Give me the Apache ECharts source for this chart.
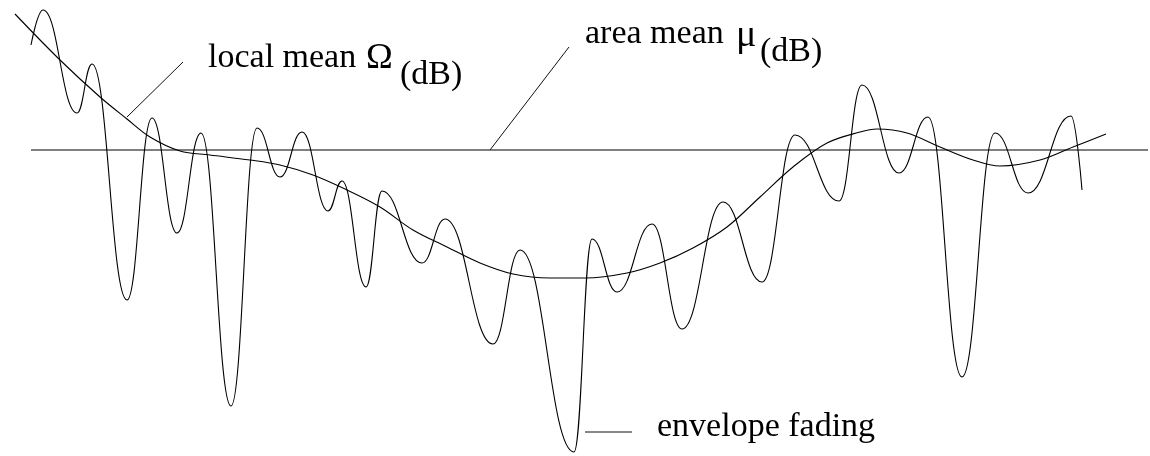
<!DOCTYPE html>
<html>
<head>
<meta charset="utf-8">
<style>
  html, body { margin: 0; padding: 0; background: #fff; }
  #chart { width: 1150px; height: 456px; }
</style>
<script src="https://cdn.jsdelivr.net/npm/echarts@6/dist/echarts.min.js"></script>
</head>
<body>
<div id="chart"></div>
<script>
// Received signal level (dB, relative to the area mean) against distance.
// Envelope fading: successive peaks and fades of the received envelope.
const envelopeFading = [
  [3.1, 10.5], [4.3, 14.0], [7.7, 3.7], [9.2, 8.6], [12.7, -15.0],
  [15.2, 3.2], [17.7, -8.3], [20.1, 1.7], [23.1, -25.6], [25.7, 2.2],
  [28.0, -2.7], [30.2, 1.8], [32.8, -6.1], [34.2, -3.1], [36.6, -13.7],
  [38.2, -4.1], [42.2, -11.3], [44.5, -6.9], [49.3, -19.4], [52.0, -10.0],
  [57.4, -30.2], [59.2, -8.9], [61.7, -14.2], [65.2, -7.4], [68.2, -17.9],
  [72.3, -5.2], [76.2, -13.2], [79.5, 1.5], [83.9, -5.1], [86.2, 6.5],
  [89.9, -2.3], [92.8, 3.3], [96.2, -22.7], [99.5, 1.7], [102.8, -4.3],
  [107.1, 3.4], [108.2, -4.0]
];

// Local mean: the slowly varying (shadowing) component.
const localMean = [
  [1.5, 13.6], [6.0, 9.0], [10.0, 5.3], [12.7, 3.1], [15.0, 1.3],
  [18.0, -0.1], [21.0, -0.5], [25.0, -1.0], [28.0, -1.5], [31.3, -2.5],
  [34.7, -4.0], [38.0, -5.7], [41.3, -8.0], [44.7, -9.7], [48.0, -11.3],
  [51.3, -12.4], [55.0, -12.8], [58.5, -12.8], [62.7, -12.3],
  [66.0, -11.3], [69.3, -9.8], [72.7, -7.7], [76.0, -4.7], [79.3, -1.7],
  [82.7, 0.7], [86.0, 1.8], [87.7, 2.1], [90.7, 1.7], [94.0, 0.3],
  [97.3, -1.0], [100.0, -1.6], [104.0, -1.0], [107.3, 0.3], [110.6, 1.6]
];

// Area mean: a constant level over the whole route.
const areaMean = [[3.1, 0], [114.8, 0]];

// Leader lines from the labels to their curves.
const localMeanLeader = [[12.7, 3.3], [18.3, 8.8]];
const areaMeanLeader = [[49.0, 0], [56.9, 10.3]];
const envelopeLeader = [[58.5, -28.2], [63.2, -28.2]];

const serif = '"Liberation Serif", "DejaVu Serif", serif';
const labelFont = '34px ' + serif;

const chart = echarts.init(document.getElementById('chart'), null, { renderer: 'canvas' });

function curve(data, extra) {
  return Object.assign({
    type: 'line',
    data: data,
    symbol: 'none',
    silent: true,
    animation: false,
    lineStyle: { color: '#000', width: 1.1 }
  }, extra || {});
}

function text(str, x, y, size) {
  return {
    type: 'text',
    x: x,
    y: y,
    silent: true,
    style: {
      text: str,
      font: (size ? size + 'px ' + serif : labelFont),
      fill: '#000', align: 'left', verticalAlign: 'middle'
    }
  };
}

chart.setOption({
  backgroundColor: '#fff',
  animation: false,
  grid: { left: 0, right: 0, top: 0, bottom: 0 },
  xAxis: { type: 'value', min: 0, max: 115, show: false },
  yAxis: { type: 'value', min: -30.6, max: 15, show: false },
  series: [
    curve(areaMean, { z: 1 }),
    curve(localMean, { smooth: 0.35, z: 2 }),
    curve(envelopeFading, { smooth: 0.45, smoothMonotone: 'x', z: 3 }),
    curve(localMeanLeader, { lineStyle: { color: '#111', width: 1 } }),
    curve(areaMeanLeader, { lineStyle: { color: '#111', width: 1 } }),
    curve(envelopeLeader, { lineStyle: { color: '#111', width: 1 } })
  ],
  graphic: [
    text('local mean', 208, 58.5),
    text('\u03A9', 366, 59, 36),
    text('(dB)', 400, 75),
    text('area mean', 585, 34),
    text('\u03BC', 736, 36, 38),
    text('(dB)', 760, 52),
    text('envelope fading', 657, 427.5)
  ]
});
</script>
</body>
</html>
